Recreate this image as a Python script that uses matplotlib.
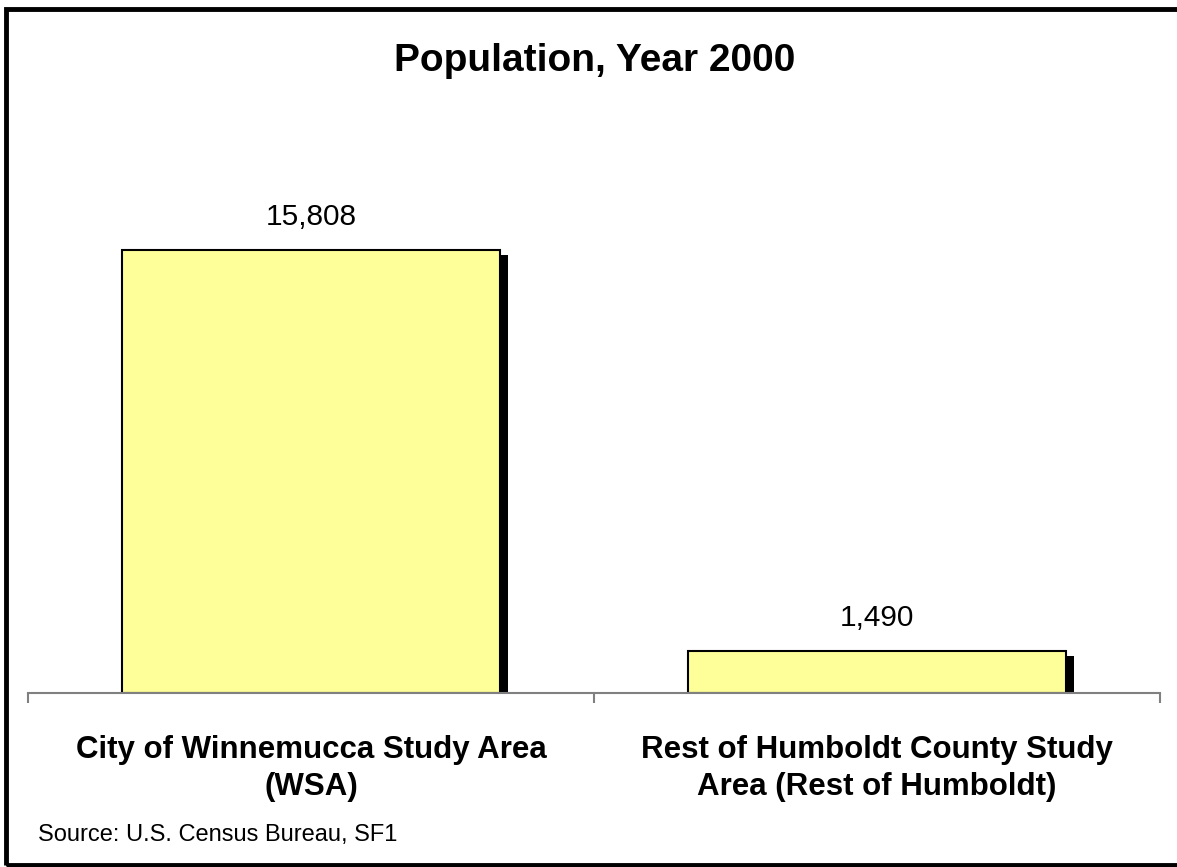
import matplotlib.pyplot as plt
from matplotlib.patches import Rectangle

categories = ["City of Winnemucca Study Area\n(WSA)",
              "Rest of Humboldt County Study\nArea (Rest of Humboldt)"]
population = [15808, 1490]
title = "Population, Year 2000"
source = "Source: U.S. Census Bureau, SF1"

plt.rcParams["font.family"] = ["Liberation Sans", "DejaVu Sans"]

W, H = 1177, 867
fig = plt.figure(figsize=(W / 100, H / 100), dpi=100)

# axes placed in pixel terms
left, right, base, top = 28, 1160, 693, 188.6
ax = fig.add_axes([left / W, 1 - base / H, (right - left) / W, (base - top) / H])
ax.set_xlim(0, 2)
ax.set_ylim(0, 18000)

xs = [0.5, 1.5]
px_x = (right - left) / 2.0
px_y = (base - top) / 18000.0
dx = 8 / px_x
dy = 5 / px_y
width = 378 / px_x

# shadows then bars
ax.bar([x + dx for x in xs], [v - dy for v in population], width=width,
       color="black", zorder=1)
ax.bar(xs, population, width=width, color="#FFFF99", edgecolor="black",
       linewidth=1.5, zorder=2)

for x, v in zip(xs, population):
    ax.annotate(f"{v:,}", (x, v), xytext=(0, 18), textcoords="offset points",
                ha="center", va="baseline", fontsize=21.5)

for s in ["left", "right", "top"]:
    ax.spines[s].set_visible(False)
ax.spines["bottom"].set_color("#808080")
ax.spines["bottom"].set_linewidth(1.5)
ax.set_yticks([])
ax.set_xticks([0, 1, 2])
ax.set_xticklabels([])
ax.tick_params(axis="x", which="major", length=7.5, width=1.5, color="#808080")
ax.set_xticks(xs, minor=True)
ax.set_xticklabels(categories, minor=True, fontsize=22.5, fontweight="bold",
                   linespacing=1.3)
ax.tick_params(axis="x", which="minor", length=0, pad=30)

fig.text(595 / W, 1 - 61 / H, title, ha="center", va="center",
         fontsize=28, fontweight="bold")
fig.text(38 / W, 1 - 835 / H, source, ha="left", va="center", fontsize=17)

fig.patches.append(Rectangle((5.5 / W, 2 / H), (W + 5) / W, (H - 10.5) / H,
                             transform=fig.transFigure, fill=False,
                             edgecolor="black", linewidth=3.5))

fig.savefig("out.png", dpi=100)
